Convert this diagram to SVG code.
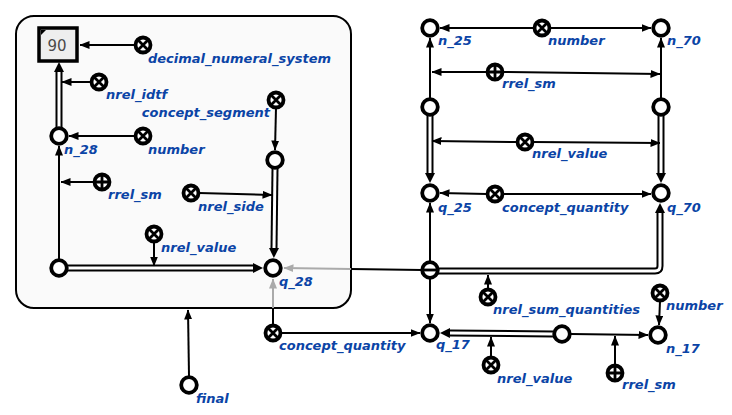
<svg xmlns="http://www.w3.org/2000/svg" width="732" height="415" viewBox="0 0 732 415">
<style>
.lbl{font-family:"DejaVu Sans",sans-serif;font-size:13px;font-weight:bold;font-style:italic;fill:#0b44a6}
.ln{stroke:#000;stroke-width:2;fill:none}
.gl{stroke:#aaa;stroke-width:2;fill:none}
.db{stroke:#000;stroke-width:7;fill:none}
.dw{stroke:#fff;stroke-width:3;fill:none}
.nd{fill:#fff;stroke:#000;stroke-width:3.8}
.x{stroke:#000;stroke-width:2.8;fill:none}
</style>
<defs>
<marker id="a" markerUnits="userSpaceOnUse" markerWidth="10" markerHeight="8" refX="9.5" refY="4" orient="auto"><path d="M0,0 L10,4 L0,8 z" fill="#000"/></marker>
<marker id="ag" markerUnits="userSpaceOnUse" markerWidth="10" markerHeight="8" refX="9.5" refY="4" orient="auto"><path d="M0,0 L10,4 L0,8 z" fill="#aaa"/></marker>
<marker id="d" markerUnits="userSpaceOnUse" markerWidth="10" markerHeight="10" refX="0" refY="5" orient="auto"><path d="M0,0 L10,5 L0,10 z" fill="#000"/></marker>
<g id="oplus"><circle r="7.5" class="nd"/><path d="M-7,0H7M0,-7V7" class="x"/></g>
<g id="otimes"><circle r="7.5" class="nd"/><path d="M-4.5,-4.5L4.5,4.5M-4.5,4.5L4.5,-4.5" class="x"/></g>
</defs>
<rect width="732" height="415" fill="#fff"/>
<g id="contour"><rect x="16" y="16" width="335" height="292" rx="18" fill="#fafafa" stroke="#000" stroke-width="2"/></g>

<g id="connectors">
<line x1="135" y1="45" x2="80" y2="45" class="ln" marker-end="url(#a)"/>
<path d="M59,127V72" class="db" marker-end="url(#d)"/><path d="M59,127V72" class="dw"/>
<line x1="91" y1="82" x2="62" y2="82" class="ln" marker-end="url(#a)"/>
<line x1="135" y1="136" x2="69" y2="136" class="ln" marker-end="url(#a)"/>
<line x1="59" y1="259" x2="59" y2="146" class="ln" marker-end="url(#a)"/>
<line x1="94" y1="182" x2="61" y2="182" class="ln" marker-end="url(#a)"/>
<line x1="276" y1="108" x2="275" y2="150" class="ln" marker-end="url(#a)"/>
<path d="M275,169L274,248" class="db" marker-end="url(#d)"/><path d="M275,169L274,248" class="dw"/>
<line x1="199" y1="193" x2="272" y2="195" class="ln" marker-end="url(#a)"/>
<path d="M68,268H253" class="db" marker-end="url(#d)"/><path d="M68,268H253" class="dw"/>
<line x1="154" y1="242" x2="154" y2="266" class="ln" marker-end="url(#a)"/>
<line x1="189" y1="376" x2="188" y2="310" class="ln" marker-end="url(#a)"/>
<line x1="273" y1="325" x2="273" y2="308" class="ln"/>
<line x1="273" y1="308" x2="273" y2="279" class="gl" marker-end="url(#ag)"/>
<line x1="281" y1="333" x2="420" y2="333" class="ln" marker-end="url(#a)"/>
<line x1="422" y1="270" x2="351" y2="269" class="ln"/>
<line x1="351" y1="269" x2="284" y2="268" class="gl" marker-end="url(#ag)"/>
<line x1="430" y1="262" x2="430" y2="203" class="ln" marker-end="url(#a)"/>
<line x1="430" y1="279" x2="430" y2="323" class="ln" marker-end="url(#a)"/>
<path d="M436,271H655Q660,271 660,266V213" class="db" marker-end="url(#d)"/><path d="M436,271H655Q660,271 660,266V213" class="dw"/>
<line x1="488" y1="289" x2="488" y2="275" class="ln" marker-end="url(#a)"/>
<line x1="534" y1="28" x2="440" y2="28" class="ln" marker-end="url(#a)"/>
<line x1="550" y1="28" x2="651" y2="28" class="ln" marker-end="url(#a)"/>
<line x1="487" y1="72" x2="432" y2="72" class="ln" marker-end="url(#a)"/>
<line x1="503" y1="72" x2="660" y2="74" class="ln" marker-end="url(#a)"/>
<line x1="430" y1="98" x2="430" y2="38" class="ln" marker-end="url(#a)"/>
<line x1="661" y1="98" x2="661" y2="38" class="ln" marker-end="url(#a)"/>
<path d="M430,116V173" class="db" marker-end="url(#d)"/><path d="M430,116V173" class="dw"/>
<path d="M661,116V173" class="db" marker-end="url(#d)"/><path d="M661,116V173" class="dw"/>
<line x1="517" y1="142" x2="432" y2="141" class="ln" marker-end="url(#a)"/>
<line x1="533" y1="142" x2="660" y2="143" class="ln" marker-end="url(#a)"/>
<line x1="487" y1="194" x2="440" y2="193" class="ln" marker-end="url(#a)"/>
<line x1="503" y1="194" x2="651" y2="194" class="ln" marker-end="url(#a)"/>
<path d="M553,334L450,333" class="db" marker-end="url(#d)"/><path d="M553,334L450,333" class="dw"/>
<line x1="571" y1="334" x2="648" y2="335" class="ln" marker-end="url(#a)"/>
<line x1="491" y1="357" x2="491" y2="337" class="ln" marker-end="url(#a)"/>
<line x1="615" y1="365" x2="615" y2="336" class="ln" marker-end="url(#a)"/>
<line x1="660" y1="301" x2="659" y2="325" class="ln" marker-end="url(#a)"/>
</g>

<g id="node-90"><rect x="39" y="28" width="38" height="33" fill="#eee" stroke="#000" stroke-width="3.5"/><path d="M41,30h5l-5,5z" fill="#000"/><text x="57" y="50.5" text-anchor="middle" font-family="DejaVu Sans,sans-serif" font-size="15" fill="#4a4a4a">90</text></g>
<g id="node-decimal_numeral_system"><use href="#otimes" x="143" y="45"/><text class="lbl" x="148" y="63">decimal_numeral_system</text></g>
<g id="node-nrel_idtf"><use href="#otimes" x="99" y="82"/><text class="lbl" x="106" y="99">nrel_idtf</text></g>
<g id="node-concept_segment"><use href="#otimes" x="276" y="100"/><text class="lbl" x="270" y="117" text-anchor="end">concept_segment</text></g>
<g id="node-number1"><use href="#otimes" x="143" y="136"/><text class="lbl" x="148" y="154">number</text></g>
<g id="node-n_28"><circle cx="59" cy="136" r="7.8" class="nd"/><text class="lbl" x="64" y="154">n_28</text></g>
<g id="node-rrel_sm1"><use href="#oplus" x="102" y="182"/><text class="lbl" x="108" y="199">rrel_sm</text></g>
<g id="node-seg"><circle cx="275" cy="160" r="7.8" class="nd"/></g>
<g id="node-nrel_side"><use href="#otimes" x="191" y="193"/><text class="lbl" x="198" y="211">nrel_side</text></g>
<g id="node-nrel_value1"><use href="#otimes" x="154" y="234"/><text class="lbl" x="161" y="252">nrel_value</text></g>
<g id="node-L"><circle cx="59" cy="268" r="7.8" class="nd"/></g>
<g id="node-q_28"><circle cx="273" cy="268" r="7.8" class="nd"/><text class="lbl" x="279" y="286">q_28</text></g>
<g id="node-concept_quantity1"><use href="#otimes" x="273" y="333"/><text class="lbl" x="279" y="350">concept_quantity</text></g>
<g id="node-final"><circle cx="189" cy="385" r="7.8" class="nd"/><text class="lbl" x="196" y="403">final</text></g>
<g id="node-n_25"><circle cx="430" cy="28" r="7.8" class="nd"/><text class="lbl" x="438" y="45">n_25</text></g>
<g id="node-number2"><use href="#otimes" x="542" y="28"/><text class="lbl" x="548" y="45">number</text></g>
<g id="node-n_70"><circle cx="661" cy="28" r="7.8" class="nd"/><text class="lbl" x="667" y="45">n_70</text></g>
<g id="node-rrel_sm2"><use href="#oplus" x="495" y="72"/><text class="lbl" x="502" y="88">rrel_sm</text></g>
<g id="node-mL"><circle cx="430" cy="107" r="7.8" class="nd"/></g>
<g id="node-mR"><circle cx="661" cy="107" r="7.8" class="nd"/></g>
<g id="node-nrel_value2"><use href="#otimes" x="525" y="142"/><text class="lbl" x="532" y="158">nrel_value</text></g>
<g id="node-q_25"><circle cx="430" cy="193" r="7.8" class="nd"/><text class="lbl" x="438" y="212">q_25</text></g>
<g id="node-concept_quantity2"><use href="#otimes" x="495" y="194"/><text class="lbl" x="502" y="212">concept_quantity</text></g>
<g id="node-q_70"><circle cx="661" cy="193" r="7.8" class="nd"/><text class="lbl" x="667" y="212">q_70</text></g>
<g id="node-minus"><circle cx="430" cy="270" r="7.8" class="nd"/><path d="M422,270H438" class="x"/></g>
<g id="node-nrel_sum_quantities"><use href="#otimes" x="488" y="297"/><text class="lbl" x="493" y="314">nrel_sum_quantities</text></g>
<g id="node-number3"><use href="#otimes" x="660" y="293"/><text class="lbl" x="666" y="310">number</text></g>
<g id="node-q_17"><circle cx="430" cy="333" r="7.8" class="nd"/><text class="lbl" x="436" y="349">q_17</text></g>
<g id="node-mB"><circle cx="562" cy="334" r="7.8" class="nd"/></g>
<g id="node-n_17"><circle cx="658" cy="335" r="7.8" class="nd"/><text class="lbl" x="666" y="353">n_17</text></g>
<g id="node-nrel_value3"><use href="#otimes" x="491" y="365"/><text class="lbl" x="497" y="383">nrel_value</text></g>
<g id="node-rrel_sm3"><use href="#oplus" x="615" y="373"/><text class="lbl" x="622" y="389">rrel_sm</text></g>
</svg>
